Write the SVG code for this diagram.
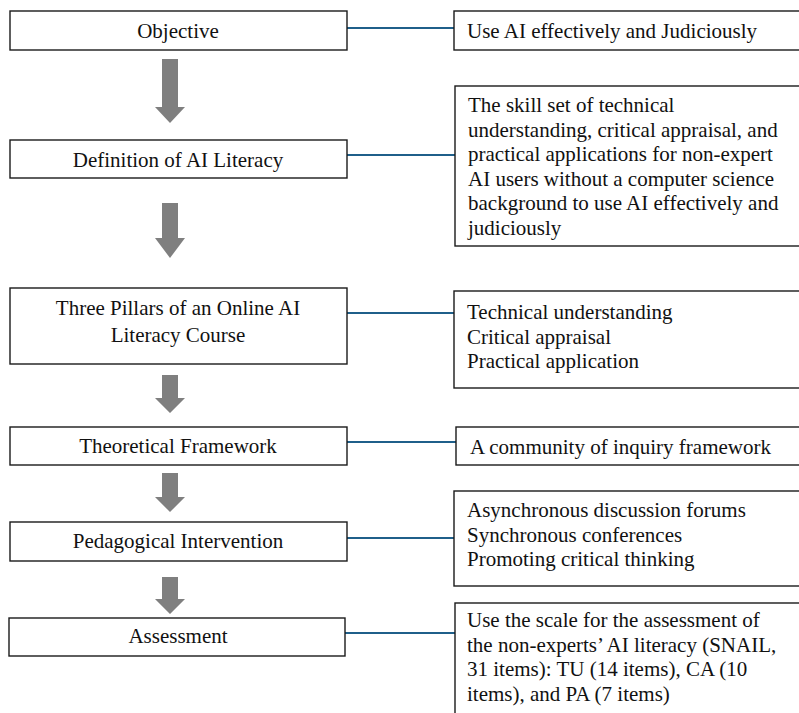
<svg xmlns="http://www.w3.org/2000/svg" width="799" height="713" viewBox="0 0 799 713">
<style>
.box{fill:#fff;stroke:#1a1a1a;stroke-width:1.4}
.t{font-family:"Liberation Serif","Times New Roman",serif;font-size:21px;fill:#111}
.c{text-anchor:middle}
.ln{stroke:#1f5f8a;stroke-width:2;fill:none}
.arr{fill:#7f7f7f}
</style>
<rect width="799" height="713" fill="#fff"/>
<g id="connectors">
<line class="ln" x1="347" y1="28" x2="454" y2="28"/>
<line class="ln" x1="347" y1="155" x2="455" y2="155"/>
<line class="ln" x1="347" y1="313" x2="454" y2="313"/>
<line class="ln" x1="347" y1="442" x2="456" y2="442"/>
<line class="ln" x1="347" y1="538" x2="454" y2="538"/>
<line class="ln" x1="345" y1="633" x2="455" y2="633"/>
<polygon class="arr" points="162,59 178,59 178,107 185,107 170,123 155,107 162,107"/>
<polygon class="arr" points="162,203 178,203 178,238 185,238 170,258 155,238 162,238"/>
<polygon class="arr" points="162,375 178,375 178,398 185,398 170,413 155,398 162,398"/>
<polygon class="arr" points="162,473 178,473 178,497 185,497 170,512 155,497 162,497"/>
<polygon class="arr" points="162,577 178,577 178,599 185,599 170,614 155,599 162,599"/>
</g>
<g id="n-objective"><rect class="box" x="10" y="11" width="337" height="39"/><text class="t c" x="178" y="38">Objective</text></g>
<g id="n-definition"><rect class="box" x="10" y="140" width="337" height="38"/><text class="t c" x="178" y="167">Definition of AI Literacy</text></g>
<g id="n-pillars"><rect class="box" x="10" y="288" width="337" height="76"/><text class="t c" x="178" y="315">Three Pillars of an Online AI</text><text class="t c" x="178" y="342">Literacy Course</text></g>
<g id="n-framework"><rect class="box" x="10" y="427" width="337" height="38"/><text class="t c" x="178" y="453">Theoretical Framework</text></g>
<g id="n-intervention"><rect class="box" x="10" y="522" width="337" height="39"/><text class="t c" x="178" y="548">Pedagogical Intervention</text></g>
<g id="n-assessment"><rect class="box" x="9" y="618" width="336" height="38"/><text class="t c" x="178" y="643">Assessment</text></g>
<g id="r-objective"><rect class="box" x="454" y="11" width="350" height="39"/><text class="t" x="467" y="38">Use AI effectively and Judiciously</text></g>
<g id="r-definition"><rect class="box" x="455" y="86" width="350" height="160"/>
<text class="t" x="468" y="112">The skill set of technical</text>
<text class="t" x="468" y="137">understanding, critical appraisal, and</text>
<text class="t" x="468" y="161">practical applications for non-expert</text>
<text class="t" x="468" y="186">AI users without a computer science</text>
<text class="t" x="468" y="210">background to use AI effectively and</text>
<text class="t" x="468" y="235">judiciously</text></g>
<g id="r-pillars"><rect class="box" x="454" y="291" width="350" height="97"/>
<text class="t" x="467" y="319">Technical understanding</text>
<text class="t" x="467" y="344">Critical appraisal</text>
<text class="t" x="467" y="368">Practical application</text></g>
<g id="r-framework"><rect class="box" x="456" y="427" width="350" height="38"/><text class="t" x="470" y="454">A community of inquiry framework</text></g>
<g id="r-intervention"><rect class="box" x="454" y="491" width="350" height="95"/>
<text class="t" x="467" y="517">Asynchronous discussion forums</text>
<text class="t" x="467" y="542">Synchronous conferences</text>
<text class="t" x="467" y="566">Promoting critical thinking</text></g>
<g id="r-assessment"><rect class="box" x="455" y="603" width="350" height="120"/>
<text class="t" x="467" y="627">Use the scale for the assessment of</text>
<text class="t" x="467" y="652">the non-experts’ AI literacy (SNAIL,</text>
<text class="t" x="467" y="676">31 items): TU (14 items), CA (10</text>
<text class="t" x="467" y="701">items), and PA (7 items)</text></g>
</svg>
